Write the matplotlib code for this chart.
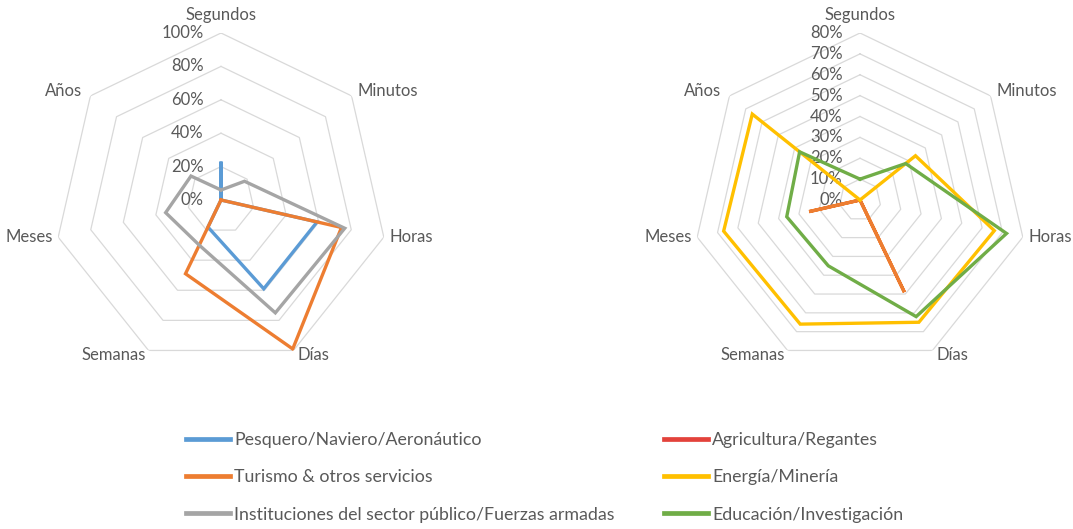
import numpy as np
import matplotlib
matplotlib.use('Agg')
from matplotlib import pyplot as plt
from matplotlib.lines import Line2D

plt.rcParams['font.family'] = ['Lato', 'DejaVu Sans']

categories = ['Segundos', 'Minutos', 'Horas', 'Días', 'Semanas', 'Meses', 'Años']

# left chart (0-100%)
pesquero = [22, 0, 59, 59, 18, 0, 0]
turismo = [0, 0, 74, 99, 49, 0, 0]
instituciones = [6, 18, 76, 75, 30, 34, 23]
ticks_left = [0, 20, 40, 60, 80, 100]

# right chart (0-80%)
agricultura = [0, 0, 0, 49, 0, 25, 0]
energia = [0, 34, 66, 65, 66, 67, 66]
educacion = [10, 28, 72, 62, 35, 36, 37]
ticks_right = [0, 10, 20, 30, 40, 50, 60, 70, 80]

c_blue = '#5B9BD5'
c_orange = '#ED7D31'
c_gray = '#A5A5A5'
c_yellow = '#FFC000'
c_green = '#70AD47'
c_red = '#E3423B'
c_text = '#595959'
c_grid = '#D9D9D9'

W, H = 1073, 529
fig = plt.figure(figsize=(W / 100, H / 100), dpi=100)

n = len(categories)
theta = np.arange(n) * 2 * np.pi / n
theta_c = np.append(theta, theta[0])

# label offsets in pixels (dx, dy, ha, va)
lab_off = [(0, 18, 'center', 'center'), (6, 5, 'left', 'center'),
           (6, 0, 'left', 'center'), (4, -5, 'left', 'center'),
           (-3, -5, 'right', 'center'), (-5, 0, 'right', 'center'),
           (-8, 5, 'right', 'center')]


def radar(cx, ticks, series):
    R = 167
    ax = fig.add_axes([(cx - R) / W, (H - 200 - R) / H, 2 * R / W, 2 * R / H],
                      projection='polar')
    ax.set_theta_offset(np.pi / 2)
    ax.set_theta_direction(-1)
    ax.set_ylim(0, ticks[-1])
    ax.grid(False)
    ax.spines['polar'].set_visible(False)
    ax.set_xticks([])
    ax.set_yticks([])
    ax.patch.set_alpha(0)
    for t in ticks[1:]:
        ax.plot(theta_c, [t] * (n + 1), color=c_grid, lw=0.9, zorder=1)
    for t in ticks:
        ax.annotate(f'{t}%', (0, t), xytext=(-12.5, 0), textcoords='offset points',
                    ha='right', va='center', fontsize=12, color=c_text)
    for th, name, (dx, dy, ha, va) in zip(theta, categories, lab_off):
        ax.annotate(name, (th, ticks[-1]), xytext=(dx * 0.72, dy * 0.72),
                    textcoords='offset points', ha=ha, va=va,
                    fontsize=12, color=c_text, annotation_clip=False)
    for vals, col in series:
        ax.plot(theta_c, vals + vals[:1], color=col, lw=2.4, zorder=3,
                solid_joinstyle='miter')
    return ax


radar(221, ticks_left, [(pesquero, c_blue), (turismo, c_orange),
                        (instituciones, c_gray)])
radar(860, ticks_right, [(agricultura, c_orange), (energia, c_yellow),
                         (educacion, c_green)])

fs = 12.8
leg_kw = dict(loc='upper left', frameon=False, fontsize=fs, handlelength=2.5,
              handletextpad=0.22, labelspacing=1.2, borderaxespad=0,
              borderpad=0, labelcolor=c_text)
h1 = [Line2D([], [], color=c, lw=3.4) for c in (c_blue, c_orange, c_gray)]
h2 = [Line2D([], [], color=c, lw=3.4) for c in (c_red, c_yellow, c_green)]
l1 = fig.legend(h1, ['Pesquero/Naviero/Aeronáutico', 'Turismo & otros servicios',
                     'Instituciones del sector público/Fuerzas armadas'],
                bbox_to_anchor=(186 / W, 1 - 432 / H), **leg_kw)
l2 = fig.legend(h2, ['Agricultura/Regantes', 'Energía/Minería',
                     'Educación/Investigación'],
                bbox_to_anchor=(664 / W, 1 - 432 / H), **leg_kw)

fig.savefig('out.png', dpi=100)
